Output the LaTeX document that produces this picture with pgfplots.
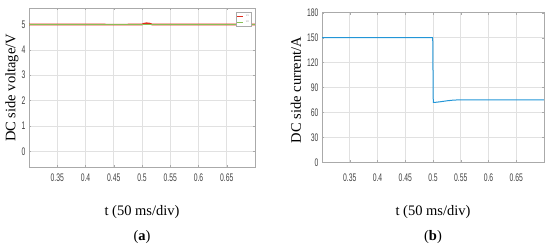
\documentclass[border=0pt]{standalone}
\usepackage{pgfplots}
\pgfplotsset{compat=1.18}
\usepackage{fontspec}
\setmainfont{Liberation Serif}
\newfontfamily\tickfont[FakeStretch=0.62]{Liberation Sans}
\definecolor{mgreen}{RGB}{135,192,85}
\definecolor{mred}{RGB}{225,45,30}
\definecolor{mblue}{RGB}{35,150,215}
\definecolor{gridc}{RGB}{225,225,225}
\definecolor{boxc}{RGB}{170,170,170}
\pgfplotsset{
  mstyle/.style={
    scale only axis, anchor=south west,
    xmin=0.3, xmax=0.7,
    xtick={0.35,0.4,0.45,0.5,0.55,0.6,0.65},
    xticklabels={0.35,0.4,0.45,0.5,0.55,0.6,0.65},
    grid=major, grid style={gridc, line width=0.6pt},
    axis line style={boxc, line width=0.6pt},
    tick align=inside, major tick length=2pt,
    tick style={boxc},
    /pgf/number format/assume math mode=true,
    tick label style={font=\fontsize{11}{11}\selectfont\tickfont, text=black!75},
  }
}
\begin{document}
\begin{tikzpicture}[x=1pt,y=1pt]
\useasboundingbox (0,0) rectangle (550,250);
% (a)
\begin{axis}[mstyle,
  at={(29pt,83pt)}, width=226pt, height=159pt,
  ymin=-0.62, ymax=5.65, ytick={0,1,2,3,4,5},
  xticklabel style={yshift=-3pt},
  legend style={at={(0.985,0.975)}, anchor=north east, draw=boxc, fill=white,
    font=\fontsize{2.5}{2.5}\selectfont, inner sep=0.5pt, row sep=-1pt,
    text=black!50, line width=0.3pt},
  legend image code/.code={\draw[#1, line width=1pt] (0pt,0pt) -- (6pt,0pt);},
]
\addplot[mred, line width=1.6pt] coordinates {
 (0.30,5.0) (0.43,5.0) (0.44,4.995) (0.47,4.995) (0.48,5.0)
 (0.500,5.0) (0.503,5.03) (0.508,5.05) (0.513,5.04) (0.518,5.0) (0.70,5.0)};
\addlegendentry{U1}
\addplot[mgreen, line width=1.6pt] coordinates {
 (0.30,5.0) (0.45,5.0) (0.50,5.0) (0.55,5.0) (0.70,5.0)};
\addlegendentry{U2}
\end{axis}
% (b)
\begin{axis}[mstyle,
  at={(322pt,87.7pt)}, width=222pt, height=149.6pt,
  ymin=0, ymax=180, ytick={0,30,60,90,120,150,180},
  xticklabel style={yshift=-8pt},
]
\addplot[mblue, line width=1pt] coordinates {
 (0.30,150) (0.45,150) (0.4995,150) (0.5005,72) (0.505,72.2)
 (0.515,73.0) (0.525,74.0) (0.535,74.7) (0.5425,75) (0.60,75) (0.70,75)};
\end{axis}
\node[rotate=90, font=\fontsize{14.5}{14.5}\selectfont] at (12,162) {DC side voltage/V};
\node[rotate=90, font=\fontsize{14.5}{14.5}\selectfont] at (296,160) {DC side current/A};
\node[font=\fontsize{14.5}{14.5}\selectfont] at (142,38) {t (50 ms/div)};
\node[font=\fontsize{14.5}{14.5}\selectfont] at (433,38) {t (50 ms/div)};
\node[font=\fontsize{14.5}{14.5}\selectfont] at (142,13) {(\textbf{a})};
\node[font=\fontsize{14.5}{14.5}\selectfont] at (433,13) {(\textbf{b})};
\end{tikzpicture}
\end{document}
